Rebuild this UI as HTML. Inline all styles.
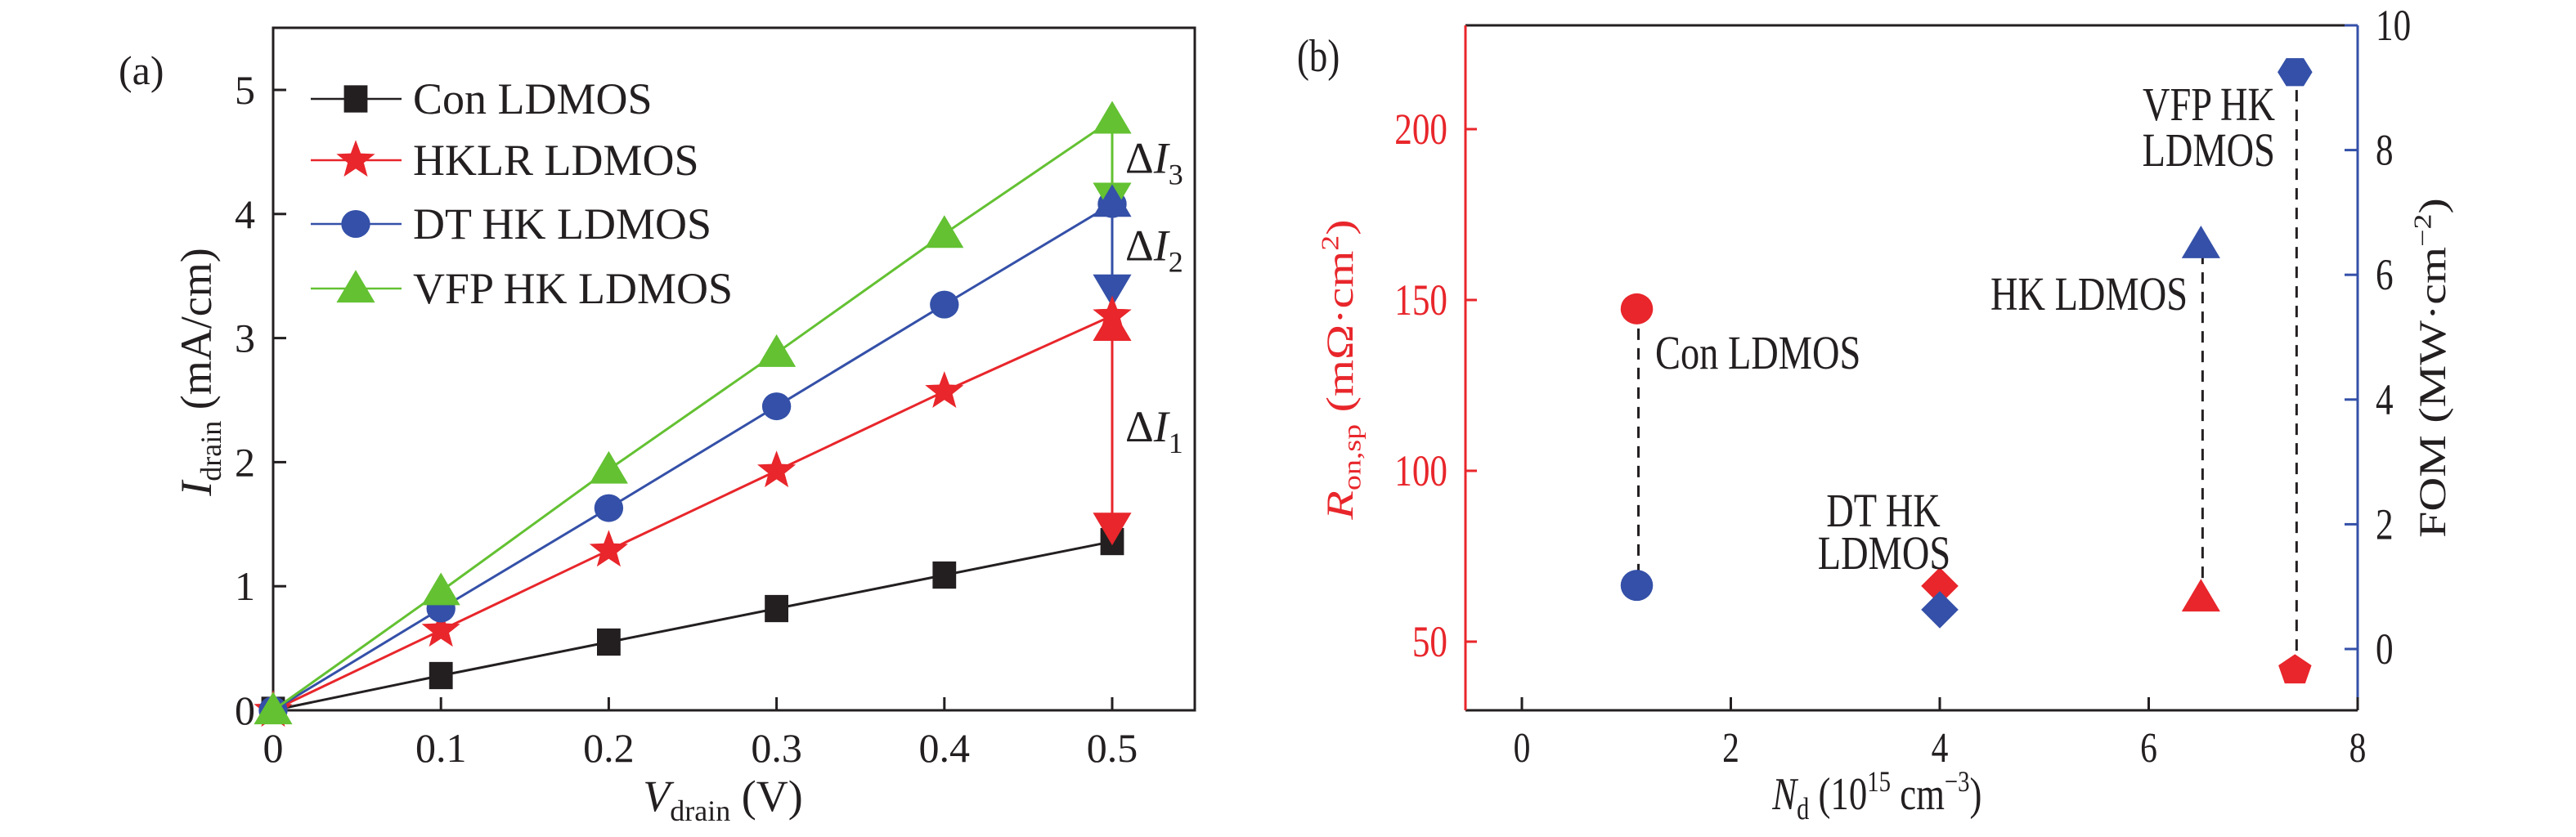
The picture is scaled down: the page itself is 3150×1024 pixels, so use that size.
<!DOCTYPE html>
<html><head><meta charset="utf-8"><style>
html,body{margin:0;padding:0;background:#fff;}
svg{display:block;font-family:"Liberation Serif","Times New Roman",serif;}
svg text, svg tspan{font-family:"Liberation Serif","Times New Roman",serif;}
text{fill:#231f20;}
</style></head><body>
<svg id="fig" xmlns="http://www.w3.org/2000/svg" width="3150" height="1024" viewBox="0 0 3150 1024" font-family="Liberation Serif, serif">
<g id="pa"></g>
<g id="pb"></g>
</svg>
<script>
// ---------- Panel (a) data ----------
const aX = [0, 0.1, 0.2, 0.3, 0.4, 0.5];
const aCon  = [0, 0.28, 0.55, 0.82, 1.09, 1.36];
const aHKLR = [0, 0.645, 1.29, 1.93, 2.57, 3.18];
const aDT   = [0, 0.82, 1.63, 2.45, 3.27, 4.08];
const aVFP  = [0, 0.96, 1.94, 2.88, 3.84, 4.76];
const aXTicks = [0, 0.1, 0.2, 0.3, 0.4, 0.5];
const aXTickLabels = ["0", "0.1", "0.2", "0.3", "0.4", "0.5"];
const aYTicks = [0, 1, 2, 3, 4, 5];
const aLegend = ["Con LDMOS", "HKLR LDMOS", "DT HK  LDMOS", "VFP HK LDMOS"];
const aDeltaTop = [4.76, 4.09, 3.09];
const aDeltaBot = [4.14, 3.40, 1.48];

// ---------- Panel (b) data ----------
const bNames = ["Con LDMOS", "DT HK LDMOS", "HK LDMOS", "VFP HK LDMOS"];
const bNd  = [1.1, 4.0, 6.5, 7.4];
const bRon = [147.4, 66.3, 62.9, 41.6];
const bFOM = [1.02, 0.63, 6.49, 9.25];
const bXTicks = [0, 2, 4, 6, 8];
const bYLTicks = [50, 100, 150, 200];
const bYRTicks = [0, 2, 4, 6, 8, 10];

const NS = "http://www.w3.org/2000/svg";
const FONT = "Liberation Serif, serif";
const RED = "#e8262b", BLUE = "#3450a8", GREEN = "#63c132", BLACK = "#231f20";
function mk(parent, tag, attrs) {
  const e = document.createElementNS(NS, tag);
  for (const k in attrs) e.setAttribute(k, attrs[k]);
  if (tag === "text") e.setAttribute("font-family", FONT);
  parent.appendChild(e);
  return e;
}
function txt(parent, x, y, s, size, anchor, fill, sx) {
  const t = mk(parent, "text", {x: 0, y: 0, "font-size": size, "text-anchor": anchor || "start"});
  t.setAttribute("transform", "translate(" + x + "," + y + ") scale(" + (sx || 1) + ",1)");
  if (fill) t.setAttribute("fill", fill), t.setAttribute("style", "fill:" + fill);
  t.textContent = s;
  return t;
}
function marker(parent, type, cx, cy, color, s) {
  let e;
  if (type === "square") e = mk(parent, "rect", {x: cx - s * 0.45, y: cy - s * 0.52, width: s * 0.9, height: s * 1.04, fill: color});
  else if (type === "circle") e = mk(parent, "ellipse", {cx: cx, cy: cy, rx: s * 0.52, ry: s * 0.5, fill: color});
  else if (type === "up") e = mk(parent, "polygon", {points: [cx - s * 0.62, cy + s * 0.45, cx + s * 0.62, cy + s * 0.45, cx, cy - s * 0.6].join(","), fill: color});
  else if (type === "down") e = mk(parent, "polygon", {points: [cx - s * 0.62, cy - s * 0.45, cx + s * 0.62, cy - s * 0.45, cx, cy + s * 0.6].join(","), fill: color});
  else if (type === "diamond") e = mk(parent, "polygon", {points: [cx, cy - s * 0.6, cx + s * 0.6, cy, cx, cy + s * 0.6, cx - s * 0.6, cy].join(","), fill: color});
  else if (type === "star") {
    const p = [];
    for (let i = 0; i < 10; i++) {
      const r = i % 2 ? s * 0.26 : s * 0.62, a = -Math.PI / 2 + i * Math.PI / 5;
      p.push(cx + r * Math.cos(a), cy + r * Math.sin(a));
    }
    e = mk(parent, "polygon", {points: p.join(","), fill: color});
  } else if (type === "hex" || type === "pent") {
    const n = type === "hex" ? 6 : 5, p = [];
    for (let i = 0; i < n; i++) {
      const a = (type === "hex" ? 0 : -Math.PI / 2) + i * 2 * Math.PI / n;
      p.push(cx + s * 0.56 * Math.cos(a), cy + s * 0.52 * Math.sin(a));
    }
    e = mk(parent, "polygon", {points: p.join(","), fill: color});
  }
  return e;
}

// ================= Panel (a) =================
const pa = document.getElementById("pa");
const aL = 334, aR = 1461, aT = 34, aB = 869;
const ax = v => aL + v / 0.1 * 205.2;
const ay = v => aB - v * 151.8;

const aLabel = txt(pa, 145, 103, "(a)", 50);



const aFrame = mk(pa, "rect", {x: aL, y: aT, width: aR - aL, height: aB - aT, fill: "none", stroke: BLACK, "stroke-width": 3});



aXTicks.forEach((v, i) => {
  const t = mk(pa, "line", {x1: ax(v), x2: ax(v), y1: aB, y2: aB - 16, stroke: BLACK, "stroke-width": 3});
  
  
  const l = txt(pa, ax(v), aB + 63, aXTickLabels[i], 50, "middle");
  
  
});
aYTicks.forEach(v => {
  const t = mk(pa, "line", {x1: aL, x2: aL + 16, y1: ay(v), y2: ay(v), stroke: BLACK, "stroke-width": 3});
  
  
  const l = txt(pa, 312, ay(v) + 17, String(v), 50, "end");
  
  
});

const axt = mk(pa, "text", {x: 0, y: 0, "font-size": 54, "text-anchor": "middle", transform: "translate(" + (aL + 550) + ",992)"});
axt.innerHTML = '<tspan font-style="italic">V</tspan><tspan font-size="36" dy="12">drain</tspan><tspan dy="-12"> (V)</tspan>';


const ayt = mk(pa, "text", {x: 0, y: 0, "font-size": 54, "text-anchor": "middle", transform: "translate(258,455) rotate(-90)"});
ayt.innerHTML = '<tspan font-style="italic">I</tspan><tspan font-size="36" dy="12">drain</tspan><tspan dy="-12"> (mA/cm)</tspan>';



const aSeries = [
  {name: "con", vals: aCon, color: BLACK, m: "square", s: 32},
  {name: "hklr", vals: aHKLR, color: RED, m: "star", s: 40},
  {name: "dt", vals: aDT, color: BLUE, m: "circle", s: 34},
  {name: "vfp", vals: aVFP, color: GREEN, m: "up", s: 38}
];
aSeries.forEach(sr => {
  const g = mk(pa, "g", {});
  
  
  const pl = mk(g, "polyline", {points: aX.map((x, i) => ax(x) + "," + ay(sr.vals[i])).join(" "), fill: "none", stroke: sr.color, "stroke-width": 3});
  
  
  aX.forEach((x, i) => {
    const m = marker(g, sr.m, ax(x), ay(sr.vals[i]), sr.color, sr.s);
    
    
  });
});

const dColors = [GREEN, BLUE, RED];
const dSub = ["3", "2", "1"];
aDeltaTop.forEach((top, i) => {
  const g = mk(pa, "g", {});
  
  
  const x = ax(0.5);
  mk(g, "line", {x1: x, x2: x, y1: ay(top), y2: ay(aDeltaBot[i]), stroke: dColors[i], "stroke-width": 3});
  marker(g, "up", x, ay(top), dColors[i], 38);
  marker(g, "down", x, ay(aDeltaBot[i]), dColors[i], 38);
  const midY = (ay(top) + ay(aDeltaBot[i])) / 2;
  const t = mk(g, "text", {x: 0, y: 0, "font-size": 54, transform: "translate(1376," + (midY + 18) + ")"});
  t.innerHTML = 'Δ<tspan font-style="italic">I</tspan><tspan font-size="36" dy="14">' + dSub[i] + '</tspan>';
});
marker(pa, "star", ax(0.5), ay(aHKLR[5]), RED, 40);

const legRows = [121, 196, 274, 353];
aLegend.forEach((name, i) => {
  const sr = aSeries[i];
  const g = mk(pa, "g", {});
  
  
  mk(g, "line", {x1: 380, x2: 491, y1: legRows[i], y2: legRows[i], stroke: sr.color, "stroke-width": 2.5});
  marker(g, sr.m, 435, legRows[i], sr.color, sr.s);
  txt(g, 505, legRows[i] + 18, name, 54);
});

// ================= Panel (b) =================
const pb = document.getElementById("pb");
const bL = 1792, bR = 2883, bT = 31, bB = 869;
const bx = v => 1861 + v * 127.75;
const byL = v => 785 - (v - 50) * 4.18;
const byR = v => 794 - v * 76.3;
const SX = 0.8;

const bLabel = txt(pb, 1586, 87, "(b)", 56, "start", null, SX);



const fr = mk(pb, "g", {});


mk(fr, "line", {x1: bL, x2: bR, y1: bT, y2: bT, stroke: BLACK, "stroke-width": 3});
mk(fr, "line", {x1: bL, x2: bR, y1: bB, y2: bB, stroke: BLACK, "stroke-width": 3});
mk(fr, "line", {x1: bL, x2: bL, y1: bT, y2: bB, stroke: RED, "stroke-width": 3});
mk(fr, "line", {x1: bR, x2: bR, y1: bT, y2: bB, stroke: BLUE, "stroke-width": 3});
mk(fr, "line", {x1: bR - 16, x2: bR, y1: bT, y2: bT, stroke: BLUE, "stroke-width": 3});

bXTicks.forEach(v => {
  const t = mk(pb, "line", {x1: bx(v), x2: bx(v), y1: bB, y2: bB - 16, stroke: BLACK, "stroke-width": 3});
  
  
  const l = txt(pb, bx(v), bB + 63, String(v), 52, "middle", null, SX);
  
  
});
bYLTicks.forEach(v => {
  const t = mk(pb, "line", {x1: bL, x2: bL + 14, y1: byL(v), y2: byL(v), stroke: RED, "stroke-width": 3});
  
  
  const l = txt(pb, bL - 22, byL(v) + 18, String(v), 54, "end", RED, SX);
  
  
});
bYRTicks.forEach(v => {
  const t = mk(pb, "line", {x1: bR - 16, x2: bR, y1: byR(v), y2: byR(v), stroke: BLUE, "stroke-width": 3});
  
  
  const l = txt(pb, bR + 22, byR(v) + 18, String(v), 54, "start", null, SX);
  
  
});

const bxt = mk(pb, "text", {x: 0, y: 0, "font-size": 56, "text-anchor": "middle", transform: "translate(" + bx(3.4) + ",990) scale(0.8,1)"});
bxt.innerHTML = '<tspan font-style="italic">N</tspan><tspan font-size="38" dy="12">d</tspan><tspan dy="-12"> (10</tspan><tspan font-size="36" dy="-22">15</tspan><tspan dy="22"> cm</tspan><tspan font-size="36" dy="-22">−3</tspan><tspan dy="22">)</tspan>';


const bylt = mk(pb, "text", {x: 0, y: 0, "font-size": 58, "text-anchor": "middle", fill: RED, transform: "translate(1654,452) rotate(-90) scale(1,0.8)", style: "fill:" + RED});
bylt.innerHTML = '<tspan font-style="italic" style="fill:' + RED + '">R</tspan><tspan font-size="38" dy="12" style="fill:' + RED + '">on,sp</tspan><tspan dy="-12" style="fill:' + RED + '"> (mΩ·cm</tspan><tspan font-size="38" dy="-22" style="fill:' + RED + '">2</tspan><tspan dy="22" style="fill:' + RED + '">)</tspan>';


const byrt = mk(pb, "text", {x: 0, y: 0, "font-size": 58, "text-anchor": "middle", transform: "translate(2990,450) rotate(-90) scale(1,0.8)"});
byrt.innerHTML = 'FOM (MW·cm<tspan font-size="38" dy="-22">−2</tspan><tspan dy="22">)</tspan>';



const bMarkers = ["circle", "diamond", "up", "hex"];
const bRonMarkers = ["circle", "diamond", "up", "pent"];
const bDashed = [true, false, true, true];
bNd.forEach((nd, i) => {
  const g = mk(pb, "g", {});
  
  
  const x = bx(nd);
  if (bDashed[i]) {
    const d = mk(g, "line", {x1: x + 2, x2: x + 2, y1: byL(bRon[i]), y2: byR(bFOM[i]), stroke: BLACK, "stroke-width": 3, "stroke-dasharray": "14 10"});
    
    
  }
  const r = marker(g, bRonMarkers[i], x, byL(bRon[i]), RED, 38);
  
  
  const f = marker(g, bMarkers[i], x, byR(bFOM[i]), BLUE, 38);
  
  
});

const ann = [
  ["VFP HK", 2782, 147, "end"], ["LDMOS", 2782, 203, "end"],
  ["HK LDMOS", 2675, 379, "end"],
  ["Con LDMOS", 2024, 451, "start"],
  ["DT HK", 2303, 644, "middle"], ["LDMOS", 2304, 696, "middle"]
];
ann.forEach(a => {
  const t = txt(pb, a[1], a[2], a[0], 58, a[3], null, SX);
  
  
});
</script>
</body></html>
